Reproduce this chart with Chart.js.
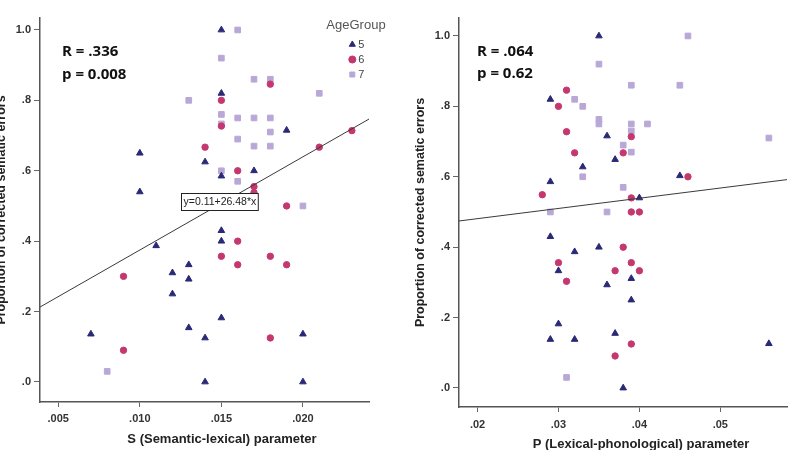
<!DOCTYPE html>
<html>
<head>
<meta charset="utf-8">
<script src="https://cdn.jsdelivr.net/npm/chart.js@4/dist/chart.umd.min.js"></script>
<style>
    html, body { margin: 0; padding: 0; background: #fff; }
    body { width: 792px; height: 450px; overflow: hidden; position: relative; }
    #semBox { position: absolute; left: -19px; top: 0; }
    #phonBox { position: absolute; left: 400px; top: 0; }
</style>
</head>
<body>
<div id="semBox"><canvas id="semChart" width="412" height="456"></canvas></div>
<div id="phonBox"><canvas id="phonChart" width="392" height="456"></canvas></div>
<script>
// Age groups and point styles
const ageGroups = ['5', '6', '7'];
const groupColors = ['#2a2976', '#c4386f', '#b9a8d7'];
const groupShapes = ['triangle', 'circle', 'rect'];
const groupRadius = [3.8, 3.2, 4];

// Left panel: S (semantic-lexical) parameter vs proportion corrected, [x, y]
const semAge5 = [[0.015, 1.0], [0.015, 0.82], [0.010, 0.65], [0.010, 0.54], [0.014, 0.625], [0.015, 0.585],
    [0.017, 0.60], [0.019, 0.715], [0.015, 0.43], [0.015, 0.40], [0.011, 0.387], [0.012, 0.31],
    [0.013, 0.333], [0.013, 0.292], [0.012, 0.25], [0.015, 0.182], [0.013, 0.154], [0.014, 0.125],
    [0.007, 0.136], [0.020, 0.136], [0.014, 0.0], [0.020, 0.0]];
const semAge6 = [[0.015, 0.80], [0.015, 0.727], [0.014, 0.667], [0.016, 0.60], [0.017, 0.555], [0.017, 0.538],
    [0.018, 0.846], [0.019, 0.50], [0.021, 0.667], [0.023, 0.714], [0.016, 0.40], [0.015, 0.357],
    [0.016, 0.333], [0.018, 0.357], [0.019, 0.333], [0.009, 0.30], [0.009, 0.09], [0.018, 0.125]];
const semAge7 = [[0.016, 1.0], [0.015, 0.92], [0.013, 0.80], [0.017, 0.86], [0.018, 0.86], [0.021, 0.82],
    [0.015, 0.76], [0.015, 0.733], [0.016, 0.75], [0.017, 0.75], [0.018, 0.75], [0.018, 0.71],
    [0.016, 0.69], [0.017, 0.67], [0.018, 0.67], [0.015, 0.60], [0.016, 0.57], [0.020, 0.50], [0.008, 0.03]];

// Right panel: P (lexical-phonological) parameter
const phonAge5 = [[0.035, 1.0], [0.029, 0.82], [0.036, 0.716], [0.037, 0.649], [0.033, 0.628], [0.029, 0.586],
    [0.045, 0.603], [0.040, 0.54], [0.029, 0.43], [0.035, 0.40], [0.032, 0.387], [0.030, 0.333],
    [0.036, 0.293], [0.039, 0.311], [0.039, 0.25], [0.030, 0.182], [0.029, 0.138], [0.032, 0.138],
    [0.037, 0.155], [0.038, 0.0], [0.056, 0.126]];
const phonAge6 = [[0.031, 0.846], [0.030, 0.80], [0.031, 0.728], [0.032, 0.668], [0.039, 0.714], [0.038, 0.668],
    [0.028, 0.549], [0.046, 0.60], [0.039, 0.54], [0.039, 0.50], [0.040, 0.50], [0.030, 0.356],
    [0.038, 0.40], [0.039, 0.356], [0.037, 0.333], [0.040, 0.333], [0.031, 0.303], [0.039, 0.125], [0.037, 0.091]];
const phonAge7 = [[0.046, 1.0], [0.035, 0.92], [0.039, 0.86], [0.045, 0.86], [0.032, 0.82], [0.033, 0.80],
    [0.035, 0.763], [0.035, 0.75], [0.039, 0.75], [0.041, 0.75], [0.039, 0.73], [0.038, 0.69],
    [0.039, 0.67], [0.056, 0.71], [0.033, 0.60], [0.038, 0.57], [0.029, 0.50], [0.036, 0.50], [0.031, 0.03]];

// Fit lines (intercept, slope)
const semFit = [0.11, 26.48];
const phonFit = [0.423, 2.90];

// Ticks
const yTickValues = [0, 0.2, 0.4, 0.6, 0.8, 1.0];
const yTickLabels = ['.0', '.2', '.4', '.6', '.8', '1.0'];
const semTickValues = [0.005, 0.010, 0.015, 0.020];
const semTickLabels = ['.005', '.010', '.015', '.020'];
const phonTickValues = [0.02, 0.03, 0.04, 0.05];
const phonTickLabels = ['.02', '.03', '.04', '.05'];

const sans = '"Liberation Sans", Arial, sans-serif';
const tickFont = { family: sans, size: 11, weight: 'bold' };

function toPoints(pairs) {
    return pairs.map(p => ({ x: p[0], y: p[1] }));
}

// R / p text, x axis title, legend title and the equation box
const notesPlugin = {
    id: 'notes',
    afterDatasetsDraw(chart, args, opts) {
        const { ctx, chartArea, scales } = chart;
        ctx.save();
        ctx.fillStyle = '#111';
        ctx.font = 'bold 15px "Open Sans", sans-serif';
        ctx.textBaseline = 'alphabetic';
        ctx.textAlign = 'left';
        opts.lines.forEach((t, i) => {
            ctx.fillText(t, chartArea.left + opts.dx, chartArea.top + opts.dy + i * opts.gap);
        });

        // axis title sits a bit right of the axis centre, as in the original
        ctx.fillStyle = '#222';
        ctx.font = 'bold 13px ' + sans;
        ctx.textAlign = 'center';
        ctx.textBaseline = 'middle';
        ctx.fillText(opts.xTitle, chartArea.left + 182, chartArea.bottom + 37.5);

        if (opts.legendTitle) {
            ctx.fillStyle = '#555';
            ctx.font = '13px ' + sans;
            ctx.fillText(opts.legendTitle, chartArea.right - 13, chartArea.top + 7.5);
        }

        if (opts.eq) {
            ctx.font = '10.5px ' + sans;
            const w = ctx.measureText(opts.eq).width + 4;
            const h = 17;
            const cx = scales.x.getPixelForValue(opts.eqAt.x);
            const cy = scales.y.getPixelForValue(opts.eqAt.y);
            const x0 = Math.round(cx - w / 2) + 0.5;
            const y0 = Math.round(cy - h / 2) + 0.5;
            ctx.fillStyle = '#fff';
            ctx.fillRect(x0, y0, w, h);
            ctx.strokeStyle = '#222';
            ctx.lineWidth = 1;
            ctx.strokeRect(x0, y0, w, h);
            ctx.fillStyle = '#222';
            ctx.fillText(opts.eq, x0 + w / 2, y0 + h / 2 + 0.5);
        }
        ctx.restore();
    }
};

// Move the legend into the top right corner of the plot
const legendSpot = {
    id: 'legendSpot',
    afterLayout(chart, args, opts) {
        const lg = chart.legend;
        if (!lg || !opts.left) return;
        lg.left = opts.left;
        lg.top = opts.top;
        lg.width = 40;
        lg.right = opts.left + 40;
        lg.bottom = opts.top + 60;
    }
};

function makeChart(id, s) {
    const datasets = [{
        label: 'fit',
        data: [
            { x: s.xMin, y: s.fit[0] + s.fit[1] * s.xMin },
            { x: s.xMax, y: s.fit[0] + s.fit[1] * s.xMax }
        ],
        showLine: true,
        borderColor: '#3a3a3a',
        borderWidth: 1,
        pointRadius: 0,
        pointHoverRadius: 0
    }];
    s.groups.forEach((g, i) => datasets.push({
        label: ageGroups[i],
        data: toPoints(g),
        pointStyle: groupShapes[i],
        pointRadius: groupRadius[i],
        backgroundColor: groupColors[i],
        borderColor: groupColors[i],
        borderWidth: 1
    }));

    return new Chart(document.getElementById(id), {
        type: 'scatter',
        data: { datasets },
        options: {
            responsive: false,
            animation: false,
            layout: { padding: { top: 18, right: s.padRight, bottom: 0, left: 0 } },
            plugins: {
                tooltip: { enabled: false },
                legend: {
                    display: s.legend,
                    position: 'chartArea',
                    align: 'start',
                    labels: {
                        usePointStyle: true, boxWidth: 1, boxHeight: 5, padding: 4, color: '#444',
                        font: { family: sans, size: 11 },
                        filter: item => item.text !== 'fit'
                    }
                },
                legendSpot: s.legend ? { left: 366.8, top: 35 } : {},
                notes: s.notes
            },
            scales: {
                x: {
                    type: 'linear',
                    min: s.xMin,
                    max: s.xMax,
                    afterFit: sc => { sc.height = s.xHeight; },
                    afterBuildTicks: sc => { sc.ticks = s.xTicks.map(v => ({ value: v })); },
                    ticks: {
                        callback: (v, i) => s.xLabels[i],
                        font: tickFont, color: '#333', padding: s.xTickPad, maxRotation: 0, autoSkip: false
                    },
                    grid: { display: true, drawOnChartArea: false, tickLength: 5, tickColor: '#666' },
                    border: { display: true, color: '#555', width: 1.5 },
                    title: { display: false }
                },
                y: {
                    type: 'linear',
                    min: s.yMin,
                    max: s.yMax,
                    afterFit: sc => { sc.width = 59; },
                    afterBuildTicks: sc => { sc.ticks = yTickValues.map(v => ({ value: v })); },
                    ticks: {
                        callback: (v, i) => yTickLabels[i],
                        font: tickFont, color: '#333', padding: 3, autoSkip: false
                    },
                    grid: { display: true, drawOnChartArea: false, tickLength: 6, tickColor: '#666' },
                    border: { display: true, color: '#555', width: 1.5 },
                    title: {
                        display: true, text: 'Proportion of corrected sematic errors', color: '#222',
                        font: { family: sans, size: 12.5, weight: 'bold' },
                        padding: { top: 13.5, bottom: 0 }
                    }
                }
            }
        },
        plugins: [notesPlugin, legendSpot]
    });
}

makeChart('semChart', {
    groups: [semAge5, semAge6, semAge7],
    fit: semFit,
    xMin: 0.00388, xMax: 0.02405, yMin: -0.057, yMax: 1.034,
    xTicks: semTickValues, xLabels: semTickLabels,
    xHeight: 54, xTickPad: 5, padRight: 24,
    legend: true,
    notes: {
        lines: ['R = .336', 'p = 0.008'], dx: 22, dy: 38, gap: 23,
        xTitle: 'S (Semantic-lexical) parameter',
        legendTitle: 'AgeGroup',
        eq: 'y=0.11+26.48*x', eqAt: { x: 0.0149, y: 0.512 }
    }
});

makeChart('phonChart', {
    groups: [phonAge5, phonAge6, phonAge7],
    fit: phonFit,
    xMin: 0.01771, xMax: 0.05824, yMin: -0.054, yMax: 1.051,
    xTicks: phonTickValues, xLabels: phonTickLabels,
    xHeight: 49, xTickPad: 6, padRight: 2,
    legend: false,
    notes: {
        lines: ['R = .064', 'p = 0.62'], dx: 18, dy: 38, gap: 22,
        xTitle: 'P (Lexical-phonological) parameter'
    }
});
</script>
</body>
</html>
